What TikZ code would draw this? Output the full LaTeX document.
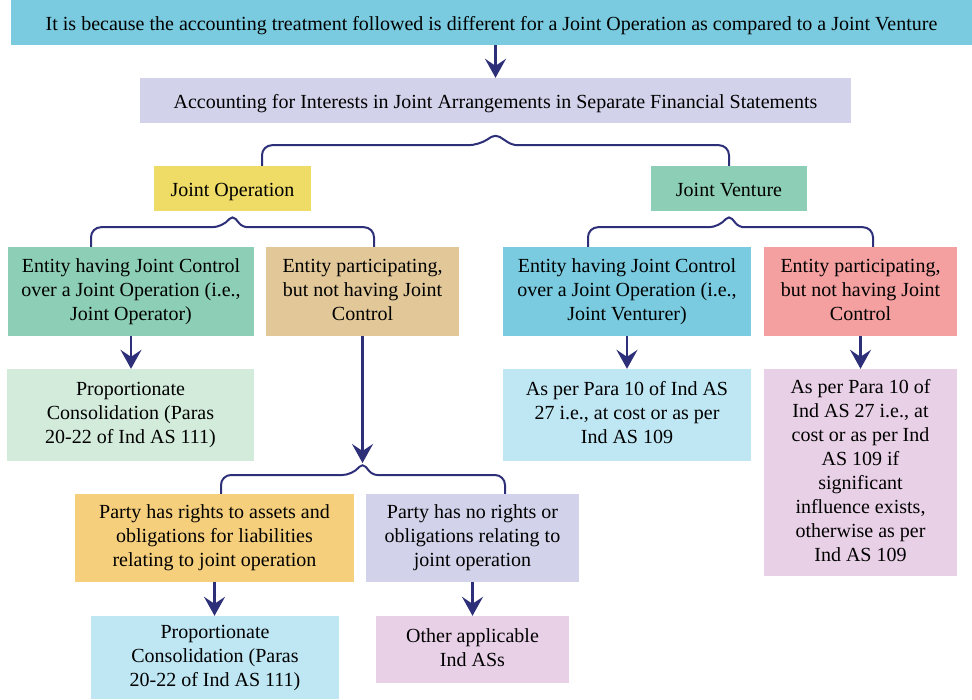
\documentclass[tikz,border=0pt]{standalone}
\usepackage{fontspec}
\setmainfont{Liberation Serif}
\usepackage{xcolor}
\usetikzlibrary{positioning,arrows.meta}
\definecolor{navy}{HTML}{2D3079}
\definecolor{skyblue}{HTML}{7ACBE0}
\definecolor{lavender}{HTML}{D2D2EA}
\definecolor{mustard}{HTML}{EEDC66}
\definecolor{mint}{HTML}{8DCFB6}
\definecolor{tan}{HTML}{E2C899}
\definecolor{salmon}{HTML}{F4A0A0}
\definecolor{palegreen}{HTML}{D3EBDB}
\definecolor{paleblue}{HTML}{BEE6F3}
\definecolor{palepink}{HTML}{E8D0E6}
\definecolor{apricot}{HTML}{F6CF7C}
\newcommand{\boxstrut}{\rule[-4.2pt]{0pt}{24pt}}
\tikzset{
  >=Latex,
  flowarrow/.style={-{Stealth[length=19pt,width=21pt,inset=7pt]},line width=2.4pt,draw=navy,fill=navy},
  brace/.style={line width=2pt,draw=navy,rounded corners=10pt},
  box/.style={rectangle,align=center,inner sep=0pt,font=\fontsize{20}{24}\selectfont,
    execute at begin node=\boxstrut,execute at end node=\boxstrut}
}
\begin{document}
\begin{tikzpicture}[x=1pt,y=-1pt]
    \useasboundingbox (0,0) rectangle (972,699);

    % Cabecera
    \node[box,fill=skyblue,minimum width=961,minimum height=45] (reason) at (491.5,22.5) {It is because the accounting treatment followed is different for a Joint Operation as compared to a Joint Venture};
    \node[box,fill=lavender,minimum width=711,minimum height=45] (accounting) at (495.5,100.5) {Accounting for Interests in Joint Arrangements in Separate Financial Statements};

    % Tipos de acuerdo
    \node[box,fill=mustard,minimum width=157,minimum height=45] (jointop) at (232.5,188.5) {Joint Operation};
    \node[box,fill=mint,minimum width=156,minimum height=45] (jointven) at (729,188.5) {Joint Venture};

    % Participantes
    \node[box,fill=mint,minimum width=246,minimum height=89] (jocontrol) at (131,291.5) {Entity having Joint Control\\over a Joint Operation (i.e.,\\Joint Operator)};
    \node[box,fill=tan,minimum width=193,minimum height=89] (joparticip) at (362.5,291.5) {Entity participating,\\but not having Joint\\Control};
    \node[box,fill=skyblue,minimum width=248,minimum height=89] (jvcontrol) at (627,291.5) {Entity having Joint Control\\over a Joint Operation (i.e.,\\Joint Venturer)};
    \node[box,fill=salmon,minimum width=193,minimum height=89] (jvparticip) at (860.5,291.5) {Entity participating,\\but not having Joint\\Control};

    % Tratamiento
    \node[box,fill=palegreen,minimum width=247,minimum height=92] (joprop) at (130.5,415) {Proportionate\\Consolidation (Paras\\20-22 of Ind AS 111)};
    \node[box,fill=paleblue,minimum width=248,minimum height=92] (jvpara) at (627,415) {As per Para 10 of Ind AS\\27 i.e., at cost or as per\\Ind AS 109};
    \node[box,fill=palepink,minimum width=193,minimum height=207] (jvinf) at (860.5,472.5) {As per Para 10 of\\Ind AS 27 i.e., at\\cost or as per Ind\\AS 109 if\\significant\\influence exists,\\otherwise as per\\Ind AS 109};

    % Derechos de la parte
    \node[box,fill=apricot,minimum width=279,minimum height=88] (rights) at (214.5,538) {Party has rights to assets and\\obligations for liabilities\\relating to joint operation};
    \node[box,fill=lavender,minimum width=213,minimum height=88] (norights) at (472.5,538) {Party has no rights or\\obligations relating to\\joint operation};
    \node[box,fill=paleblue,minimum width=248,minimum height=83] (rightsprop) at (215,657.5) {Proportionate\\Consolidation (Paras\\20-22 of Ind AS 111)};
    \node[box,fill=palepink,minimum width=193,minimum height=67] (otheras) at (472.5,649.5) {Other applicable\\Ind ASs};

    % Puntas de las llaves
    \coordinate (tip1) at ([yshift=-11]accounting.south);
    \coordinate (tip2) at ([yshift=-4]jointop.south);
    \coordinate (tip3) at ([yshift=-4]jointven.south);
    \coordinate (tip4) at (362.5,463);

    % Llaves
    \draw[brace] ([xshift=29.5]jointop.north) |- ([xshift=-17,yshift=-11]tip1) [rounded corners=5pt] -- (tip1) -- ([xshift=17,yshift=-11]tip1) [rounded corners=10pt] -| (jointven.north);
    \draw[brace] ([xshift=-40]jocontrol.north) |- ([xshift=-10,yshift=-12]tip2) [rounded corners=5pt] -- (tip2) -- ([xshift=10,yshift=-12]tip2) [rounded corners=10pt] -| ([xshift=11.5]joparticip.north);
    \draw[brace] ([xshift=-39]jvcontrol.north) |- ([xshift=-10,yshift=-12]tip3) [rounded corners=5pt] -- (tip3) -- ([xshift=10,yshift=-12]tip3) [rounded corners=10pt] -| ([xshift=12.5]jvparticip.north);
    \draw[brace] ([xshift=6.5]rights.north) |- ([xshift=-10,yshift=-12]tip4) [rounded corners=5pt] -- (tip4) -- ([xshift=10,yshift=-12]tip4) [rounded corners=10pt] -| ([xshift=32.5]norights.north);

    % Flechas
    \draw[flowarrow] (reason.south -| accounting.north) -- (accounting.north);
    \draw[flowarrow] (joparticip.south) -- (tip4);
    \foreach \a/\b in {jocontrol/joprop,jvcontrol/jvpara,jvparticip/jvinf,rights/rightsprop,norights/otheras} \draw[flowarrow] (\a.south) -- (\a.south |- \b.north);
\end{tikzpicture}
\end{document}
